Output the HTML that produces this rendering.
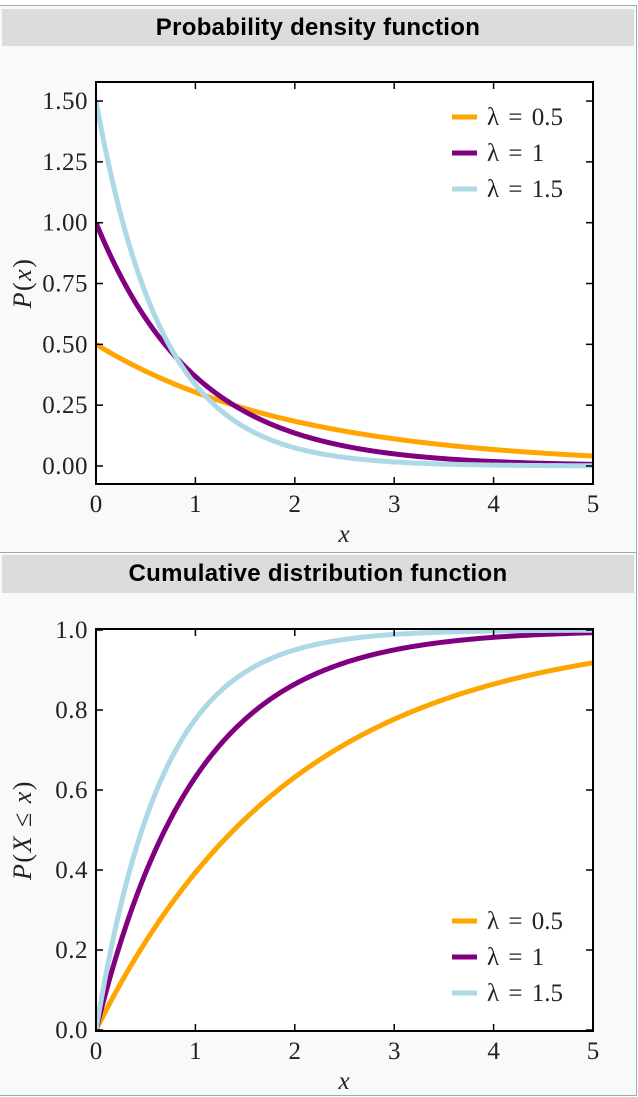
<!DOCTYPE html>
<html><head><meta charset="utf-8"><style>
html,body{margin:0;padding:0;background:#fff;}
body{width:638px;height:1097px;position:relative;overflow:hidden;font-family:"Liberation Sans",sans-serif;}
#frame{position:absolute;left:0;top:5px;width:636px;height:1089px;background:#f8f9fa;border-top:1px solid #a2a9b1;border-right:1px solid #a2a9b1;border-bottom:1px solid #a2a9b1;}
.hdr{position:absolute;left:2px;width:632px;background:#dcdcdc;font-weight:bold;font-size:24px;text-align:center;color:#000;letter-spacing:0.3px;}
svg{position:absolute;left:0;top:0;}
svg text{font-family:"Liberation Serif",serif;fill:#222;}
</style></head><body>
<div id="frame"></div>
<div class="hdr" style="top:9px;height:37px;line-height:37px;">Probability density function</div>
<div style="position:absolute;left:0;top:552px;width:636px;height:1px;background:#a2a9b1"></div>
<div class="hdr" style="top:555px;height:38px;line-height:38px;">Cumulative distribution function</div>
<svg id="s" width="638" height="1097"></svg>
<script>
const lambdas=[0.5,1,1.5];
const colors=["#ffa500","#800080","#add8e6"];
const legendLabels=["λ = 0.5","λ = 1","λ = 1.5"];
const xTicks=[0,1,2,3,4,5];
const pdfTicks=[0,0.25,0.5,0.75,1.0,1.25,1.5];
const pdfTickLabels=["0.00","0.25","0.50","0.75","1.00","1.25","1.50"];
const cdfTicks=[0,0.2,0.4,0.6,0.8,1.0];
const cdfTickLabels=["0.0","0.2","0.4","0.6","0.8","1.0"];
const NS="http://www.w3.org/2000/svg";
const svg=document.getElementById('s');
function mk(t,a,p){const e=document.createElementNS(NS,t);for(const k in a)e.setAttribute(k,a[k]);(p||svg).appendChild(e);return e;}
const X0=96,X1=593;
const sx=v=>X0+(X1-X0)*v/5;
function chart(cfg){
  const g=mk('g',{});
  
  
  const sy=cfg.sy;
  mk('rect',{x:X0,y:cfg.top,width:X1-X0,height:cfg.bot-cfg.top,fill:'#fff'},g);
  lambdas.forEach((l,i)=>{
    let d='';
    for(let k=0;k<=250;k++){const x=5*k/250;const y=cfg.f(l,x);d+=(k?'L':'M')+sx(x).toFixed(2)+' '+sy(y).toFixed(2);}
    const p=mk('path',{d:d,fill:'none',stroke:colors[i],'stroke-width':5,'clip-path':'url(#'+cfg.clip+')'},g);
    
    
  });
  mk('rect',{x:X0,y:cfg.top,width:X1-X0,height:cfg.bot-cfg.top,fill:'none',stroke:'#000','stroke-width':2},g);
  xTicks.forEach(t=>{
    mk('line',{x1:sx(t),x2:sx(t),y1:cfg.bot,y2:cfg.bot-7,stroke:'#000','stroke-width':1.5},g);
    mk('line',{x1:sx(t),x2:sx(t),y1:cfg.top,y2:cfg.top+7,stroke:'#000','stroke-width':1.5},g);
    const tx=mk('text',{x:sx(t),y:cfg.bot+28,'font-size':25,'text-anchor':'middle'},g);
    tx.textContent=t;
    
    
  });
  cfg.yt.forEach((t,i)=>{
    mk('line',{x1:X0,x2:X0+7,y1:sy(t),y2:sy(t),stroke:'#000','stroke-width':1.5},g);
    mk('line',{x1:X1,x2:X1-7,y1:sy(t),y2:sy(t),stroke:'#000','stroke-width':1.5},g);
    const tx=mk('text',{x:X0-8,y:sy(t)+8,'font-size':25,'text-anchor':'end','letter-spacing':0.5},g);
    tx.textContent=cfg.yl[i];
    
    
  });
  const xl=mk('text',{x:344,y:cfg.bot+58,'font-size':25,'font-style':'italic','text-anchor':'middle'},g);
  xl.textContent='x';
  
  
  const yl=mk('text',{x:0,y:0,'font-size':26,'text-anchor':'middle','letter-spacing':1.5,transform:'translate(31,'+cfg.ylY+') rotate(-90)'},g);
  yl.innerHTML=cfg.ylab;
  
  
  lambdas.forEach((l,i)=>{
    const y=cfg.legY+i*36;
    const ln=mk('line',{x1:452,x2:477,y1:y,y2:y,stroke:colors[i],'stroke-width':5},g);
    
    
    const tx=mk('text',{x:487,y:y+8,'font-size':25,'word-spacing':3},g);
    tx.textContent=legendLabels[i];
    
    
  });
}
const defs=mk('defs',{});
const c1=mk('clipPath',{id:'c1'},defs);mk('rect',{x:X0,y:82,width:X1-X0,height:402},c1);
const c2=mk('clipPath',{id:'c2'},defs);mk('rect',{x:X0,y:629,width:X1-X0,height:402},c2);
chart({name:'pdf-chart',clip:'c1',top:82,bot:484,sy:v=>466-v*243.3,f:(l,x)=>l*Math.exp(-l*x),yt:pdfTicks,yl:pdfTickLabels,ylab:'<tspan font-style="italic">P</tspan>(<tspan font-style="italic">x</tspan>)',ylY:283,legY:117});
chart({name:'cdf-chart',clip:'c2',top:629,bot:1031,sy:v=>1030-v*400,f:(l,x)=>1-Math.exp(-l*x),yt:cdfTicks,yl:cdfTickLabels,ylab:'<tspan font-style="italic">P</tspan>(<tspan font-style="italic">X</tspan> ≤ <tspan font-style="italic">x</tspan>)',ylY:830,legY:921});
</script>
</body></html>
